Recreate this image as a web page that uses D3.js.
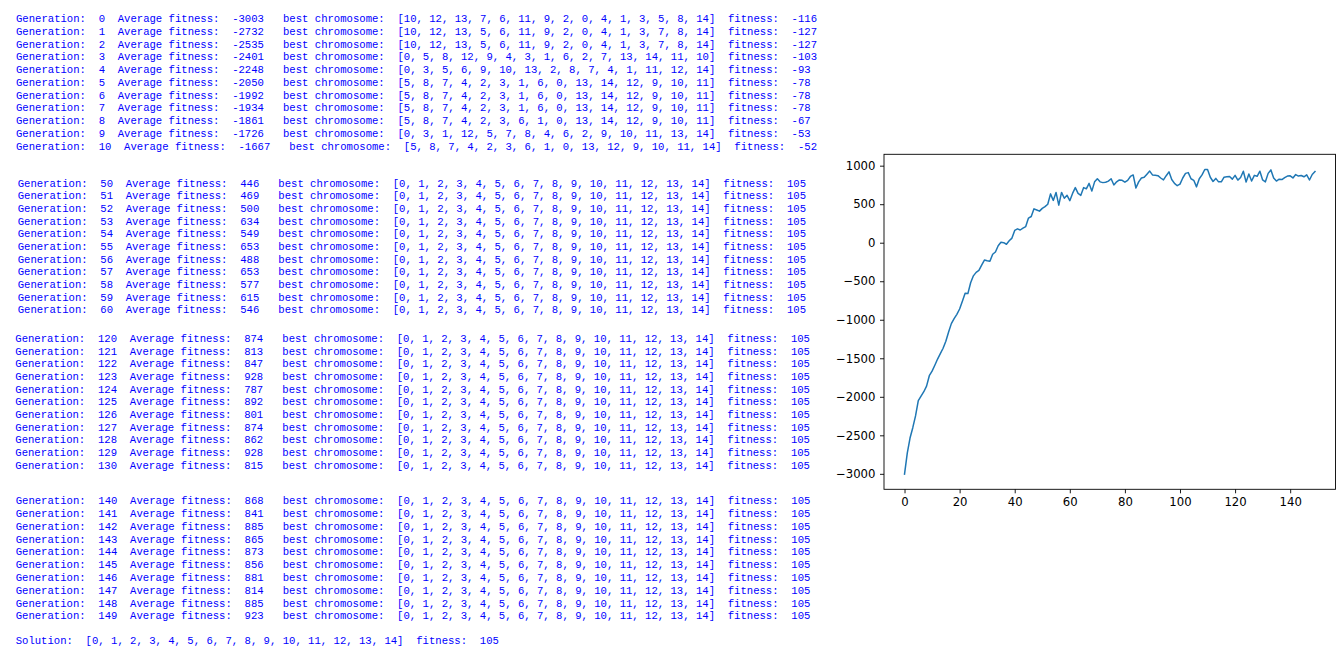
<!DOCTYPE html>
<html>
<head>
<meta charset="utf-8">
<script src="https://cdn.jsdelivr.net/npm/d3@7"></script>
<style>
  html, body { margin: 0; padding: 0; background: #fff; }
  svg { display: block; }
</style>
</head>
<body>
<svg id="page" width="1340" height="655"></svg>
<script>
// average fitness per generation (index = generation)
const avgFitness = [
  -3003, -2732, -2535, -2401, -2248, -2050, -1992, -1934, -1861, -1726,
  -1667, -1590, -1510, -1440, -1370, -1280, -1160, -1050, -985, -930,
  -860, -760, -655, -660, -520, -430, -385, -360, -290, -225,
  -235, -240, -150, -120, -40, 5, 0, -20, 25, 60,
  160, 180, 165, 190, 210, 320, 340, 440, 425, 410,
  446, 469, 500, 634, 549, 653, 488, 653, 577, 615,
  546, 640, 715, 640, 615, 715, 700, 770, 670, 790,
  830, 790, 780, 785, 800, 830, 750, 790, 815, 810,
  785, 810, 860, 880, 710, 790, 840, 850, 890, 930,
  880, 875, 870, 840, 815, 870, 920, 820, 770, 740,
  760, 840, 900, 910, 830, 810, 725, 830, 880, 950,
  950, 850, 795, 835, 790, 790, 850, 855, 860, 825,
  874, 813, 847, 928, 787, 892, 801, 874, 862, 928,
  815, 790, 900, 945, 840, 800, 825, 820, 845, 865,
  868, 841, 885, 865, 873, 856, 881, 814, 885, 923
];

// generations printed in the log, one group per pasted block
const logBlock1 = [0, 1, 2, 3, 4, 5, 6, 7, 8, 9, 10];
const logBlock2 = [50, 51, 52, 53, 54, 55, 56, 57, 58, 59, 60];
const logBlock3 = [120, 121, 122, 123, 124, 125, 126, 127, 128, 129, 130];
const logBlock4 = [140, 141, 142, 143, 144, 145, 146, 147, 148, 149];

// best chromosomes of the first generations
const earlyChromosomes = [
  [10, 12, 13, 7, 6, 11, 9, 2, 0, 4, 1, 3, 5, 8, 14],
  [10, 12, 13, 5, 6, 11, 9, 2, 0, 4, 1, 3, 7, 8, 14],
  [10, 12, 13, 5, 6, 11, 9, 2, 0, 4, 1, 3, 7, 8, 14],
  [0, 5, 8, 12, 9, 4, 3, 1, 6, 2, 7, 13, 14, 11, 10],
  [0, 3, 5, 6, 9, 10, 13, 2, 8, 7, 4, 1, 11, 12, 14],
  [5, 8, 7, 4, 2, 3, 1, 6, 0, 13, 14, 12, 9, 10, 11],
  [5, 8, 7, 4, 2, 3, 1, 6, 0, 13, 14, 12, 9, 10, 11],
  [5, 8, 7, 4, 2, 3, 1, 6, 0, 13, 14, 12, 9, 10, 11],
  [5, 8, 7, 4, 2, 3, 6, 1, 0, 13, 14, 12, 9, 10, 11],
  [0, 3, 1, 12, 5, 7, 8, 4, 6, 2, 9, 10, 11, 13, 14],
  [5, 8, 7, 4, 2, 3, 6, 1, 0, 13, 12, 9, 10, 11, 14]
];
const earlyBestFitness = [-116, -127, -127, -103, -93, -78, -78, -78, -67, -53, -52];

const solution = [0, 1, 2, 3, 4, 5, 6, 7, 8, 9, 10, 11, 12, 13, 14];
const solutionFitness = 105;

const yTicks = [-3000, -2500, -2000, -1500, -1000, -500, 0, 500, 1000];
const xTicks = [0, 20, 40, 60, 80, 100, 120, 140];

const svg = d3.select('#page');

// ---- console log text ----
const fmtLine = (g, chrom, fit) =>
  'Generation:  ' + g + '  Average fitness:  ' + avgFitness[g] +
  '   best chromosome:  [' + chrom.join(', ') + ']  fitness:  ' + fit;

const blocks = [
  { gens: logBlock1, x: 16, y: 22.3, dy: 12.73 },
  { gens: logBlock2, x: 17.7, y: 186.6, dy: 12.67 },
  { gens: logBlock3, x: 15.3, y: 342, dy: 12.66 },
  { gens: logBlock4, x: 15.7, y: 504.3, dy: 12.78 }
];

const log = svg.append('g')
  .style('font-family', "'Courier New', 'Liberation Mono', monospace")
  .style('font-size', '10.6px')
  .style('fill', '#0000ff');

blocks.forEach((b, bi) => {
  log.append('g').selectAll('text')
    .data(b.gens)
    .enter().append('text')
    .attr('xml:space', 'preserve')
    .style('white-space', 'pre')
    .attr('x', b.x)
    .attr('y', (d, i) => b.y + i * b.dy)
    .text((d, i) => bi === 0
      ? fmtLine(d, earlyChromosomes[i], earlyBestFitness[i])
      : fmtLine(d, solution, solutionFitness));
});

log.append('text')
  .attr('xml:space', 'preserve')
  .style('white-space', 'pre')
  .attr('x', 15.7)
  .attr('y', 644.3)
  .text('Solution:  [' + solution.join(', ') + ']  fitness:  ' + solutionFitness);

// ---- fitness chart ----
const box = { left: 884, right: 1335.5, top: 154.3, bottom: 489.3 };

const n = avgFitness.length;
const x = d3.scaleLinear()
  .domain([-0.05 * (n - 1), (n - 1) * 1.05])
  .range([box.left, box.right]);

const [ymin, ymax] = d3.extent(avgFitness);
const ypad = 0.05 * (ymax - ymin);
const y = d3.scaleLinear()
  .domain([ymin - ypad, ymax + ypad])
  .range([box.bottom, box.top]);

const line = d3.line()
  .x((d, i) => x(i))
  .y(d => y(d));

svg.append('path')
  .datum(avgFitness)
  .attr('d', line)
  .attr('fill', 'none')
  .attr('stroke', '#1f77b4')
  .attr('stroke-width', 1.5)
  .attr('stroke-linejoin', 'round')
  .attr('stroke-linecap', 'square');

const fmt = d3.format('d');

const yAxis = svg.append('g')
  .attr('transform', `translate(${box.left},0)`)
  .call(d3.axisLeft(y).tickValues(yTicks).tickFormat(fmt).tickSizeInner(4).tickSizeOuter(0).tickPadding(4.5));

const xAxis = svg.append('g')
  .attr('transform', `translate(0,${box.bottom})`)
  .call(d3.axisBottom(x).tickValues(xTicks).tickFormat(fmt).tickSizeInner(4).tickSizeOuter(0).tickPadding(4.5));

[yAxis, xAxis].forEach(a => {
  a.select('.domain').remove();
  a.selectAll('line').attr('stroke', '#000').attr('stroke-width', 0.9);
  a.selectAll('text')
    .style('font-family', "'DejaVu Sans', sans-serif")
    .style('font-size', '11.7px')
    .attr('fill', '#000');
});

svg.append('rect')
  .attr('x', box.left)
  .attr('y', box.top)
  .attr('width', box.right - box.left)
  .attr('height', box.bottom - box.top)
  .attr('fill', 'none')
  .attr('stroke', '#000')
  .attr('stroke-width', 0.9);
</script>
</body>
</html>
